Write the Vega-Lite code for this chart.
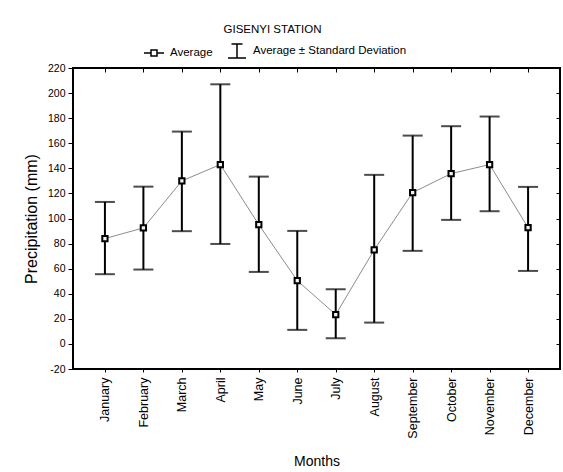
{
  "$schema": "https://vega.github.io/schema/vega-lite/v6.json",
  "width": 487,
  "height": 301,
  "padding": {"left": 23, "top": 23, "right": 3, "bottom": 5},
  "background": "white",
  "title": {
    "text": "GISENYI STATION",
    "fontSize": 11.5,
    "fontWeight": "normal",
    "font": "Liberation Sans",
    "color": "black",
    "anchor": "middle",
    "dx": -44,
    "offset": 5
  },
  "config": {
    "view": {"stroke": "black", "strokeWidth": 2},
    "font": "Liberation Sans",
    "axis": {"grid": false, "domain": false, "tickColor": "black", "labelColor": "black", "titleColor": "black", "titleFontWeight": "normal", "labelFont": "Liberation Sans", "titleFont": "Liberation Sans"}
  },
  "data": {
    "values": [
      {"month": "January", "mean": 84.0, "lower": 55.6, "upper": 113.2},
      {"month": "February", "mean": 92.5, "lower": 59.3, "upper": 125.4},
      {"month": "March", "mean": 130.0, "lower": 89.9, "upper": 169.3},
      {"month": "April", "mean": 143.0, "lower": 79.7, "upper": 207.0},
      {"month": "May", "mean": 95.1, "lower": 57.4, "upper": 133.4},
      {"month": "June", "mean": 50.5, "lower": 11.2, "upper": 90.1},
      {"month": "July", "mean": 23.4, "lower": 4.5, "upper": 43.6},
      {"month": "August", "mean": 75.0, "lower": 17.0, "upper": 134.8},
      {"month": "September", "mean": 120.7, "lower": 74.2, "upper": 166.1},
      {"month": "October", "mean": 135.8, "lower": 98.9, "upper": 173.6},
      {"month": "November", "mean": 143.0, "lower": 105.8, "upper": 181.3},
      {"month": "December", "mean": 92.7, "lower": 58.2, "upper": 125.2}
    ]
  },
  "resolve": {"axis": {"x": "independent", "y": "independent"}},
  "layer": [
    {
      "mark": {"type": "line", "color": "#8c8c8c", "strokeWidth": 1},
      "encoding": {
        "x": {"field": "month", "type": "nominal", "sort": null,
          "scale": {"type": "point", "padding": 0.83},
          "axis": {"orient": "bottom", "title": "Months", "labelAngle": -90, "labelFontSize": 12.5, "labelPadding": 5, "tickSize": 3, "titleFontSize": 14, "titlePadding": 16}},
        "y": {"field": "mean", "type": "quantitative",
          "scale": {"domain": [-20, 220], "nice": false, "zero": false},
          "axis": {"orient": "left", "title": "Precipitation (mm)", "values": [-20,0,20,40,60,80,100,120,140,160,180,200,220], "labelExpr": "replace(datum.label, '−', '-')", "labelFontSize": 10.5, "tickSize": 5, "labelPadding": 3, "titleFontSize": 16, "titlePadding": 8}}
      }
    },
    {
      "mark": {"type": "rule", "color": "black", "strokeWidth": 2},
      "encoding": {
        "x": {"field": "month", "type": "nominal", "sort": null, "axis": {"orient": "top", "labels": false, "title": null, "tickSize": -4}},
        "y": {"field": "lower", "type": "quantitative", "axis": {"orient": "right", "labels": false, "title": null, "values": [-20,0,20,40,60,80,100,120,140,160,180,200,220], "tickSize": -4}},
        "y2": {"field": "upper"}
      }
    },
    {
      "mark": {"type": "tick", "color": "black", "thickness": 2, "size": 20, "orient": "horizontal"},
      "encoding": {
        "x": {"field": "month", "type": "nominal", "sort": null, "axis": null},
        "y": {"field": "upper", "type": "quantitative", "axis": null}
      }
    },
    {
      "mark": {"type": "tick", "color": "black", "thickness": 2, "size": 20, "orient": "horizontal"},
      "encoding": {
        "x": {"field": "month", "type": "nominal", "sort": null, "axis": null},
        "y": {"field": "lower", "type": "quantitative", "axis": null}
      }
    },
    {
      "mark": {"type": "point", "shape": "square", "filled": true, "fill": "#f2f2f2", "stroke": "black", "strokeWidth": 2, "size": 28, "opacity": 1},
      "encoding": {
        "x": {"field": "month", "type": "nominal", "sort": null, "axis": null},
        "y": {"field": "mean", "type": "quantitative", "axis": null}
      }
    },
    {
      "data": {"values": [{"series": "Average"}, {"series": "Average ± Standard Deviation"}]},
      "mark": {"type": "point", "opacity": 0},
      "encoding": {
        "shape": {"field": "series", "type": "nominal",
          "scale": {"domain": ["Average", "Average ± Standard Deviation"], "range": ["M-1,0H-0.3M0.3,0H1M-0.3,-0.3H0.3V0.3H-0.3Z", "M-0.55,-0.7H0.55M0,-0.7V0.7M-0.9,0.7H0.9"]},
          "legend": {"orient": "none", "legendX": 70, "legendY": -28, "direction": "horizontal", "title": null,
            "labelFont": "Liberation Sans", "labelFontSize": 11.5, "labelLimit": 400, "labelColor": "black", "symbolSize": 400, "symbolStrokeWidth": 1.5, "symbolStrokeColor": "black", "symbolFillColor": "white", "symbolOpacity": 1, "columnPadding": 12, "labelOffset": 5,
            "encode": {"symbols": {"update": {"opacity": {"value": 1}, "stroke": {"value": "black"}, "fill": {"value": "white"}}}}}
        }
      }
    }
  ]
}
